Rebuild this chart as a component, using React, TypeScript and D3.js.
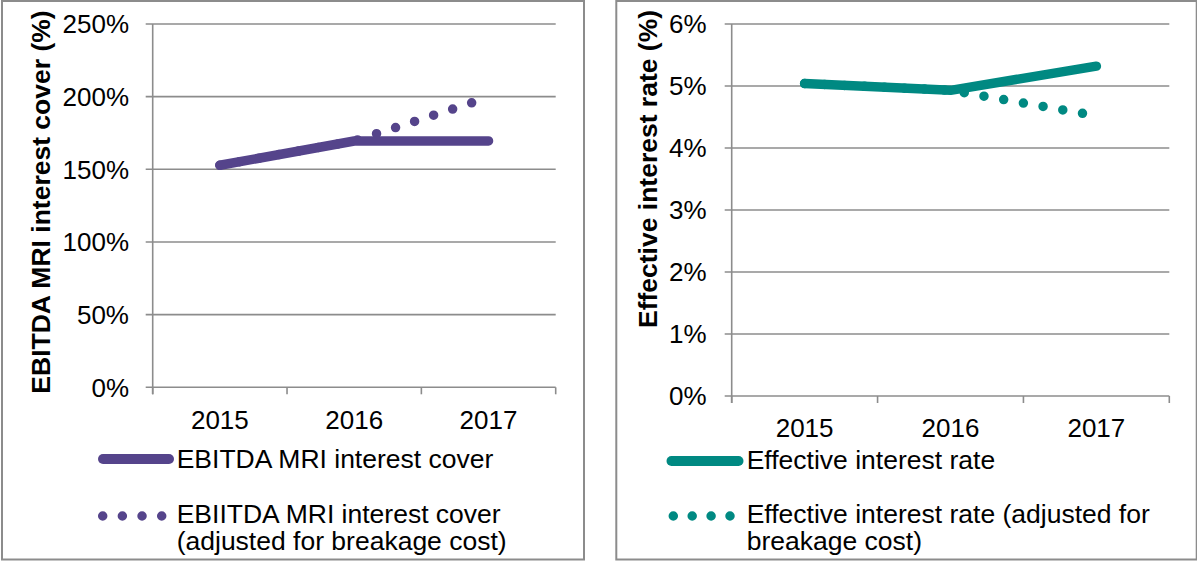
import React from 'react';
import * as d3 from 'd3';

// Years on the category axis
const years = ['2015', '2016', '2017'];

// EBITDA MRI interest cover (%)
const coverValues = [152.8, 169.5, 169.5];
const coverAdjusted = [152.8, 169.5, 199.5];
const coverTicks = [0, 50, 100, 150, 200, 250];

// Effective interest rate (%)
const rateValues = [5.04, 4.93, 5.32];
const rateAdjusted = [5.04, 4.93, 4.52];
const rateTicks = [0, 1, 2, 3, 4, 5, 6];

const FONT = '"Liberation Sans", Arial, sans-serif';
const GRID = '#8c8c8c';

interface PanelProps {
  frame: { x: number; y: number; w: number; h: number };
  plot: { x0: number; x1: number; y0: number; y1: number };
  yMax: number;
  ticks: number[];
  values: number[];
  adjusted: number[];
  color: string;
  title: string;
  titleX: number;
  titleCY: number;
  yLabelX: number;
  xLabelOffset: number;
  legend: {
    lineX0: number;
    lineX1: number;
    lineY: number;
    dotX0: number;
    dotX1: number;
    dotGap: number;
    dotY: number;
    textX: number;
    baselines: number[];
    lines: string[];
  };
}

function Panel(p: PanelProps) {
  const x = d3.scaleBand<string>().domain(years).range([p.plot.x0, p.plot.x1]).padding(0);
  const y = d3.scaleLinear().domain([0, p.yMax]).range([p.plot.y1, p.plot.y0]);
  const cx = (i: number) => (x(years[i]) as number) + x.bandwidth() / 2;
  const line = d3
    .line<number>()
    .x((_, i) => cx(i))
    .y((d) => y(d));

  const boundaries = years.map((yr) => x(yr) as number).concat([p.plot.x1]);
  const lg = p.legend;

  return (
    <g>
      <rect x={p.frame.x} y={p.frame.y} width={p.frame.w} height={p.frame.h} fill="#fff" stroke={GRID} strokeWidth={2} />

      {/* horizontal gridlines with left tick marks */}
      {p.ticks.map((t) => (
        <line key={'g' + t} x1={p.plot.x0 - 7} x2={p.plot.x1} y1={y(t)} y2={y(t)} stroke={GRID} strokeWidth={1.6} />
      ))}
      {/* value axis */}
      <line x1={p.plot.x0} x2={p.plot.x0} y1={p.plot.y0} y2={p.plot.y1 + 7} stroke={GRID} strokeWidth={1.6} />
      {/* category tick marks */}
      {boundaries.map((b, i) => (
        <line key={'t' + i} x1={b} x2={b} y1={p.plot.y1} y2={p.plot.y1 + 7} stroke={GRID} strokeWidth={1.6} />
      ))}

      {/* tick labels */}
      {p.ticks.map((t) => (
        <text key={'l' + t} x={p.yLabelX} y={y(t)} dy="0.36em" textAnchor="end" fontSize={26} fontFamily={FONT} fill="#000">
          {t + '%'}
        </text>
      ))}
      {years.map((yr, i) => (
        <text key={yr} x={cx(i)} y={p.plot.y1 + p.xLabelOffset} textAnchor="middle" fontSize={26} fontFamily={FONT} fill="#000">
          {yr}
        </text>
      ))}

      <text
        transform={`translate(${p.titleX},${p.titleCY}) rotate(-90)`}
        textAnchor="middle"
        dy="0.36em"
        fontSize={26.5}
        fontWeight="bold"
        fontFamily={FONT}
        fill="#000"
      >
        {p.title}
      </text>

      {/* series: adjusted (dotted) beneath, reported (solid) on top */}
      <path d={line(p.adjusted) || ''} fill="none" stroke={p.color} strokeWidth={9.5} strokeLinecap="round" strokeDasharray="0 20" />
      <path d={line(p.values) || ''} fill="none" stroke={p.color} strokeWidth={9.5} strokeLinecap="round" strokeLinejoin="round" />

      {/* legend */}
      <line x1={lg.lineX0} x2={lg.lineX1} y1={lg.lineY} y2={lg.lineY} stroke={p.color} strokeWidth={10} strokeLinecap="round" />
      <line
        x1={lg.dotX0}
        x2={lg.dotX1 + 1}
        y1={lg.dotY}
        y2={lg.dotY}
        stroke={p.color}
        strokeWidth={9.5}
        strokeLinecap="round"
        strokeDasharray={`0 ${lg.dotGap}`}
      />
      {lg.lines.map((s, i) => (
        <text key={'lg' + i} x={lg.textX} y={lg.baselines[i]} fontSize={26.5} fontFamily={FONT} fill="#000">
          {s}
        </text>
      ))}
    </g>
  );
}

export default function App() {
  return (
    <svg
      width={1197}
      height={561}
      viewBox="0 0 1197 561"
      style={{ position: 'absolute', left: 0, top: 0, background: '#fff' }}
    >
      <Panel
        frame={{ x: 2, y: 1, w: 582, h: 558.5 }}
        plot={{ x0: 152.7, x1: 555.7, y0: 24, y1: 387.3 }}
        yMax={250}
        ticks={coverTicks}
        values={coverValues}
        adjusted={coverAdjusted}
        color="#55448b"
        title="EBITDA MRI interest cover (%)"
        titleX={40}
        titleCY={202}
        yLabelX={129}
        xLabelOffset={42}
        legend={{
          lineX0: 103,
          lineX1: 169,
          lineY: 459,
          dotX0: 102.7,
          dotX1: 161.7,
          dotGap: 19.67,
          dotY: 516,
          textX: 176.7,
          baselines: [468, 523.3, 550],
          lines: ['EBITDA MRI interest cover', 'EBIITDA MRI interest cover', '(adjusted for breakage cost)'],
        }}
      />
      <Panel
        frame={{ x: 616.3, y: 1, w: 580.4, h: 558.5 }}
        plot={{ x0: 731.7, x1: 1169.3, y0: 24, y1: 396 }}
        yMax={6}
        ticks={rateTicks}
        values={rateValues}
        adjusted={rateAdjusted}
        color="#008982"
        title="Effective interest rate (%)"
        titleX={647.6}
        titleCY={169}
        yLabelX={706.7}
        xLabelOffset={41}
        legend={{
          lineX0: 671.5,
          lineX1: 738.5,
          lineY: 461,
          dotX0: 673.3,
          dotX1: 730,
          dotGap: 18.9,
          dotY: 516,
          textX: 746.7,
          baselines: [469.3, 523.3, 550],
          lines: ['Effective interest rate', 'Effective interest rate (adjusted for', 'breakage cost)'],
        }}
      />
    </svg>
  );
}
